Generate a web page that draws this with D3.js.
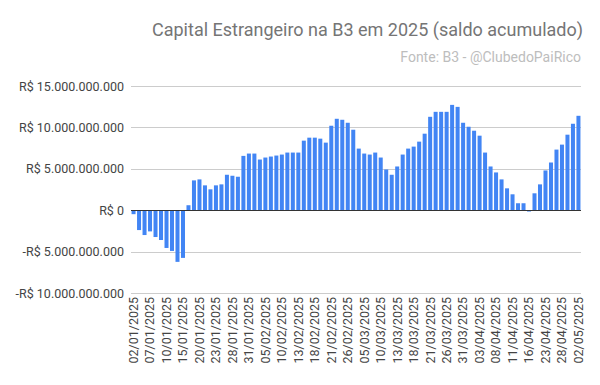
<!DOCTYPE html>
<html>
<head>
<meta charset="utf-8">
<script src="https://cdnjs.cloudflare.com/ajax/libs/d3/7.8.5/d3.min.js"></script>
<style>
  body { margin: 0; background: #fff; }
  text { font-family: Roboto, "Noto Sans", sans-serif; }
</style>
</head>
<body>
<svg id="chart"></svg>
<script>
const width = 600, height = 385;
const margin = {top: 86, bottom: 92, left: 131, right: 19};

// trading days, 02/01/2025 to 02/05/2025
const dates = [
  "02/01/2025", "03/01/2025", "06/01/2025", "07/01/2025", "08/01/2025", "09/01/2025", "10/01/2025",
  "13/01/2025", "14/01/2025", "15/01/2025", "16/01/2025", "17/01/2025", "20/01/2025", "21/01/2025",
  "22/01/2025", "23/01/2025", "24/01/2025", "27/01/2025", "28/01/2025", "29/01/2025", "30/01/2025",
  "31/01/2025", "03/02/2025", "04/02/2025", "05/02/2025", "06/02/2025", "07/02/2025", "10/02/2025",
  "11/02/2025", "12/02/2025", "13/02/2025", "14/02/2025", "17/02/2025", "18/02/2025", "19/02/2025",
  "20/02/2025", "21/02/2025", "24/02/2025", "25/02/2025", "26/02/2025", "27/02/2025", "28/02/2025",
  "05/03/2025", "06/03/2025", "07/03/2025", "10/03/2025", "11/03/2025", "12/03/2025", "13/03/2025",
  "14/03/2025", "17/03/2025", "18/03/2025", "19/03/2025", "20/03/2025", "21/03/2025", "24/03/2025",
  "25/03/2025", "26/03/2025", "27/03/2025", "28/03/2025", "31/03/2025", "01/04/2025", "02/04/2025",
  "03/04/2025", "04/04/2025", "07/04/2025", "08/04/2025", "09/04/2025", "10/04/2025", "11/04/2025",
  "14/04/2025", "15/04/2025", "16/04/2025", "17/04/2025", "22/04/2025", "23/04/2025", "24/04/2025",
  "25/04/2025", "28/04/2025", "29/04/2025", "30/04/2025", "02/05/2025"
];

// saldo acumulado, em bilhões de R$
const saldo = [
  -0.48, -2.40, -3.00, -2.56, -3.24, -3.60, -4.56, -4.92, -6.24, -5.76,
  0.60, 3.60, 3.72, 3.00, 2.52, 3.00, 3.12, 4.28, 4.16, 4.04,
  6.56, 6.84, 6.84, 6.12, 6.36, 6.48, 6.60, 6.72, 6.96, 6.96,
  6.96, 8.40, 8.76, 8.76, 8.64, 8.16, 10.20, 11.04, 10.92, 10.56,
  9.72, 7.44, 6.84, 6.72, 6.96, 6.36, 4.92, 4.28, 5.28, 6.72,
  7.44, 7.68, 8.28, 9.24, 11.28, 11.88, 11.88, 11.88, 12.72, 12.48,
  10.56, 10.08, 9.60, 9.00, 6.96, 5.28, 4.56, 3.72, 2.64, 1.92,
  0.84, 0.84, -0.16, 2.04, 3.12, 4.80, 5.76, 7.32, 7.92, 9.12,
  10.44, 11.40
];

const yTicks = [-10, -5, 0, 5, 10, 15];
const yTickLabels = ["-R$ 10.000.000.000", "-R$ 5.000.000.000", "R$ 0", "R$ 5.000.000.000", "R$ 10.000.000.000", "R$ 15.000.000.000"];

const data = dates.map((d, i) => ({date: d, value: saldo[i]}));

const svg = d3.select("#chart")
    .attr("width", width)
    .attr("height", height);

const xScale = d3.scaleBand()
    .domain(dates)
    .range([margin.left, width - margin.right])
    .paddingInner(0.27)
    .paddingOuter(0.1);

const yScale = d3.scaleLinear()
    .domain([-10, 15])
    .range([height - margin.bottom, margin.top]);

// gridlines
svg.append("g")
    .selectAll("line")
    .data(yTicks)
    .join("line")
    .attr("x1", margin.left)
    .attr("x2", width - margin.right)
    .attr("y1", d => Math.round(yScale(d)) + 0.5)
    .attr("y2", d => Math.round(yScale(d)) + 0.5)
    .attr("stroke", "#cccccc");

// y labels
const yAxis = svg.append("g")
    .attr("transform", `translate(${margin.left - 7},0)`)
    .call(d3.axisLeft(yScale).tickValues(yTicks).tickSize(0).tickFormat((d, i) => yTickLabels[i]));
yAxis.select(".domain").remove();
yAxis.selectAll("text")
    .attr("x", 0)
    .style("font-size", "12.5px")
    .style("font-family", "Roboto")
    .attr("fill", "#444");

// bars
svg.append("g")
    .selectAll("rect")
    .data(data)
    .join("rect")
    .attr("x", d => xScale(d.date))
    .attr("width", xScale.bandwidth())
    .attr("y", d => yScale(Math.max(0, d.value)))
    .attr("height", d => Math.abs(yScale(d.value) - yScale(0)))
    .attr("fill", "#4285f4");

// zero line
svg.append("line")
    .attr("x1", margin.left)
    .attr("x2", width - margin.right)
    .attr("y1", Math.round(yScale(0)) + 0.5)
    .attr("y2", Math.round(yScale(0)) + 0.5)
    .attr("stroke", "#333");

// x labels, every third day
const xAxis = svg.append("g")
    .attr("transform", `translate(0,${height - margin.bottom})`)
    .call(d3.axisBottom(xScale).tickValues(dates.filter((d, i) => i % 3 === 0)).tickSize(0));
xAxis.select(".domain").remove();
xAxis.selectAll("text")
    .attr("transform", "rotate(-90)")
    .attr("x", -4)
    .attr("y", 0)
    .attr("dy", "0.35em")
    .style("text-anchor", "end")
    .style("font-size", "12.5px")
    .style("font-family", "Roboto")
    .attr("fill", "#444");

// titles
svg.append("text")
    .attr("x", width - margin.right + 2)
    .attr("y", 36)
    .attr("text-anchor", "end")
    .style("font-size", "18px")
    .attr("fill", "#757575")
    .text("Capital Estrangeiro na B3 em 2025 (saldo acumulado)");

svg.append("text")
    .attr("x", width - margin.right)
    .attr("y", 62)
    .attr("text-anchor", "end")
    .style("font-size", "14px")
    .attr("fill", "#bdbdbd")
    .text("Fonte: B3 - @ClubedoPaiRico");
</script>
</body>
</html>
